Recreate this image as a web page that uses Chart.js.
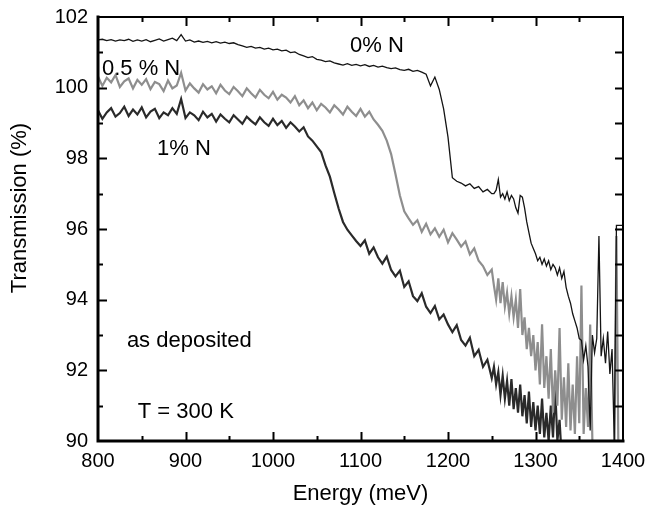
<!DOCTYPE html>
<html>
<head>
<meta charset="utf-8">
<script src="https://cdn.jsdelivr.net/npm/chart.js@4.4.1/dist/chart.umd.min.js"></script>
<style>
  html, body { margin: 0; padding: 0; background: #fff; }
  #wrap { width: 647px; height: 510px; }
</style>
</head>
<body>
<div id="wrap"><canvas id="transChart" width="647" height="510"></canvas></div>
<script>
// measurement grid (meV), finer above 1250
const energy = [
  800,805,810,815,820,825,830,835,840,845,
  850,855,860,865,870,875,880,885,890,895,
  900,905,910,915,920,925,930,935,940,945,
  950,955,960,965,970,975,980,985,990,995,
  1000,1005,1010,1015,1020,1025,1030,1035,1040,1045,
  1050,1055,1060,1065,1070,1075,1080,1085,1090,1095,
  1100,1105,1110,1115,1120,1125,1130,1135,1140,1145,
  1150,1155,1160,1165,1170,1175,1180,1185,1190,1195,
  1200,1205,1210,1215,1220,1225,1230,1235,1240,1245,
  1250,1252.5,1255,1257.5,1260,1262.5,1265,1267.5,1270,1272.5,
  1275,1277.5,1280,1282.5,1285,1287.5,1290,1292.5,1295,1297.5,
  1300,1302.5,1305,1307.5,1310,1312.5,1315,1317.5,1320,1322.5,
  1325,1327.5,1330,1332.5,1335,1337.5,1340,1342.5,1345,1347.5,
  1350,1352.5,1355,1357.5,1360,1362.5,1365,1367.5,1370,1372.5,
  1375,1377.5,1380,1382.5,1385,1387.5,1390,1392.5,1395,1397.5,
  1400
];

// 0% N
const trans0 = [
  101.35,101.37,101.33,101.36,101.32,101.35,101.33,101.37,101.31,101.35,
  101.32,101.36,101.30,101.34,101.38,101.32,101.36,101.40,101.33,101.50,
  101.32,101.35,101.29,101.32,101.28,101.31,101.27,101.30,101.26,101.29,
  101.25,101.27,101.22,101.18,101.14,101.17,101.12,101.14,101.09,101.12,
  101.07,101.09,101.04,101.06,100.99,101.01,100.94,100.90,100.85,100.88,
  100.80,100.78,100.74,100.76,100.70,100.67,100.64,100.68,100.63,100.66,
  100.62,100.65,100.60,100.63,100.58,100.61,100.57,100.54,100.56,100.51,
  100.49,100.52,100.46,100.49,100.44,100.38,100.05,100.30,99.95,99.40,
  98.60,97.45,97.35,97.30,97.22,97.28,97.15,97.20,97.05,97.12,
  97.00,97.0,97.1,97.4,96.9,97.0,96.85,97.05,96.8,96.95,
  96.85,96.6,96.45,96.95,96.9,96.6,96.2,95.9,95.6,95.45,
  95.3,95.1,95.2,95.0,95.15,94.95,95.1,94.85,95.0,94.9,
  94.7,94.9,94.6,94.8,94.35,94.1,93.9,93.6,93.4,93.2,
  92.9,92.85,92.3,92.7,92.1,90.3,93.0,92.5,92.9,95.8,
  92.4,92.9,92.2,93.1,91.9,92.6,90.0,96.1,96.1,96.1,
  96.1
];

// 0.5 % N
const trans05 = [
  100.32,100.05,100.28,100.15,100.36,100.02,100.18,100.26,99.98,100.22,
  100.08,100.24,99.96,100.16,100.10,99.90,100.20,99.98,100.06,100.42,
  99.92,100.12,99.98,99.86,100.10,99.95,100.04,99.84,100.08,99.92,
  99.82,100.02,99.90,99.76,99.98,99.84,99.72,99.94,99.80,99.70,
  99.88,99.66,99.80,99.72,99.58,99.76,99.50,99.64,99.42,99.58,
  99.36,99.54,99.44,99.30,99.50,99.38,99.24,99.46,99.32,99.20,
  99.40,99.18,99.32,99.10,98.95,98.78,98.50,98.12,97.55,96.95,
  96.50,96.30,96.12,96.25,95.92,96.15,95.85,96.02,95.78,95.98,
  95.62,95.88,95.70,95.50,95.65,95.28,95.45,95.10,94.95,94.70,
  94.85,94.4,94.0,94.6,93.9,94.5,93.8,94.2,93.6,94.1,
  93.5,94.0,93.2,94.3,93.0,93.5,92.6,93.2,92.4,93.0,
  92.0,92.8,91.6,93.3,91.5,92.4,91.2,92.6,90.8,92.0,
  91.0,93.2,90.6,91.8,90.4,92.2,90.3,91.6,90.2,92.4,
  90.5,94.4,90.2,91.5,90.4,93.3,90.0,89.0,null,null,
  null,null,null,null,null,null,89.0,95.8,89.0,null,
  null
];

// 1% N
const trans1 = [
  99.36,99.12,99.30,99.42,99.18,99.28,99.46,99.20,99.38,99.24,
  99.44,99.16,99.32,99.40,99.14,99.30,99.22,99.42,99.26,99.68,
  99.14,99.30,99.22,99.08,99.32,99.16,99.26,99.04,99.24,99.12,
  99.02,99.22,99.10,98.98,99.18,99.06,98.96,99.16,99.02,98.92,
  99.12,98.94,99.06,98.86,99.02,98.90,98.76,98.88,98.62,98.50,
  98.34,98.18,97.80,97.48,97.02,96.58,96.20,95.98,95.82,95.66,
  95.52,95.68,95.30,95.48,95.20,95.02,95.22,94.84,94.66,94.82,
  94.36,94.52,94.10,93.96,94.18,93.80,93.62,93.82,93.44,93.58,
  93.30,93.08,93.28,92.86,92.70,92.92,92.40,92.58,92.10,92.30,
  91.78,92.1,91.6,91.95,91.3,91.85,91.2,91.7,91.0,91.75,
  90.9,91.5,90.8,91.6,90.7,91.3,90.5,91.4,90.4,91.1,
  90.3,91.0,90.2,91.2,90.1,90.8,90.0,91.0,90.1,91.5,
  90.0,90.6,89.5,null,null,null,null,null,null,null,
  null,null,null,null,null,null,null,null,null,null,
  null,null,null,null,null,null,null,null,null,null,
  null
];

const FONT = "'Liberation Sans', Arial, Helvetica, sans-serif";

// text written inside the plot, anchored at data coordinates (left, baseline)
const notes = [
  { text: '0% N', x: 1088, y: 101.01 },
  { text: '0.5 % N', x: 804.5, y: 100.36 },
  { text: '1% N', x: 867.5, y: 98.09 },
  { text: 'as deposited', x: 833, y: 92.66 },
  { text: 'T = 300 K', x: 845.5, y: 90.65 }
];

function toPoints(values) {
  return energy.map((e, i) => ({ x: e, y: values[i] }));
}

// closed frame with inward ticks on all four sides
const frameTicks = {
  id: 'frameTicks',
  afterDraw(chart) {
    const { ctx, chartArea: a, scales: { x, y } } = chart;
    ctx.save();
    ctx.strokeStyle = '#000';
    ctx.lineCap = 'square';

    ctx.lineWidth = 2;
    ctx.beginPath();
    ctx.moveTo(a.left, a.top);
    ctx.lineTo(a.right, a.top);
    ctx.lineTo(a.right, a.bottom);
    ctx.stroke();

    ctx.lineWidth = 3;
    ctx.beginPath();
    ctx.moveTo(a.left, a.top);
    ctx.lineTo(a.left, a.bottom);
    ctx.lineTo(a.right, a.bottom);
    ctx.stroke();

    ctx.lineWidth = 2;
    ctx.lineCap = 'butt';
    ctx.beginPath();
    for (let v = x.min + 50; v < x.max; v += 50) {
      const px = Math.round(x.getPixelForValue(v)) + 0.5;
      const len = v % 100 === 0 ? 9 : 5;
      ctx.moveTo(px, a.bottom); ctx.lineTo(px, a.bottom - len);
      ctx.moveTo(px, a.top); ctx.lineTo(px, a.top + len);
    }
    for (let v = y.min + 1; v < y.max; v += 1) {
      const py = Math.round(y.getPixelForValue(v)) + 0.5;
      const len = v % 2 === 0 ? 9 : 5;
      ctx.moveTo(a.left, py); ctx.lineTo(a.left + len, py);
      ctx.moveTo(a.right, py); ctx.lineTo(a.right - 8, py);
    }
    ctx.stroke();

    // labels inside the plot
    ctx.fillStyle = '#000';
    ctx.font = '22px ' + FONT;
    ctx.textAlign = 'left';
    ctx.textBaseline = 'alphabetic';
    notes.forEach(n => {
      ctx.fillText(n.text, x.getPixelForValue(n.x), y.getPixelForValue(n.y));
    });

    // y axis title
    ctx.translate(20, 208);
    ctx.rotate(-Math.PI / 2);
    ctx.textAlign = 'center';
    ctx.textBaseline = 'middle';
    ctx.fillText('Transmission (%)', 0, 0);
    ctx.restore();
  }
};

new Chart(document.getElementById('transChart'), {
  type: 'line',
  data: {
    datasets: [
      { label: '0% N', data: toPoints(trans0), borderColor: '#141414', borderWidth: 1.3 },
      { label: '0.5 % N', data: toPoints(trans05), borderColor: '#8e8e8e', borderWidth: 2.2 },
      { label: '1% N', data: toPoints(trans1), borderColor: '#2a2a2a', borderWidth: 2.2 }
    ]
  },
  options: {
    responsive: false,
    animation: false,
    devicePixelRatio: 1,
    parsing: false,
    elements: {
      point: { radius: 0 },
      line: { tension: 0, fill: false }
    },
    spanGaps: false,
    layout: { padding: { top: 17, right: 24, left: 0, bottom: 0 } },
    plugins: {
      legend: { display: false },
      tooltip: { enabled: false }
    },
    scales: {
      x: {
        type: 'linear',
        min: 800,
        max: 1400,
        grid: { display: false, drawTicks: false },
        border: { display: false },
        ticks: { stepSize: 100, color: '#000', padding: 8, font: { family: FONT, size: 20 }, callback: v => String(v) },
        title: { display: true, text: 'Energy (meV)', color: '#000', padding: { top: 0, bottom: 3 }, font: { family: FONT, size: 22 } },
        afterFit(s) { s.height = 69; s.paddingLeft = 0; s.paddingRight = 0; }
      },
      y: {
        min: 90,
        max: 102,
        grid: { display: false, drawTicks: false },
        border: { display: false },
        ticks: { stepSize: 2, color: '#000', padding: 10, font: { family: FONT, size: 20 }, callback: v => String(v) },
        afterFit(s) { s.width = 98; s.paddingTop = 0; s.paddingBottom = 0; }
      }
    }
  },
  plugins: [frameTicks]
});
</script>
</body>
</html>
